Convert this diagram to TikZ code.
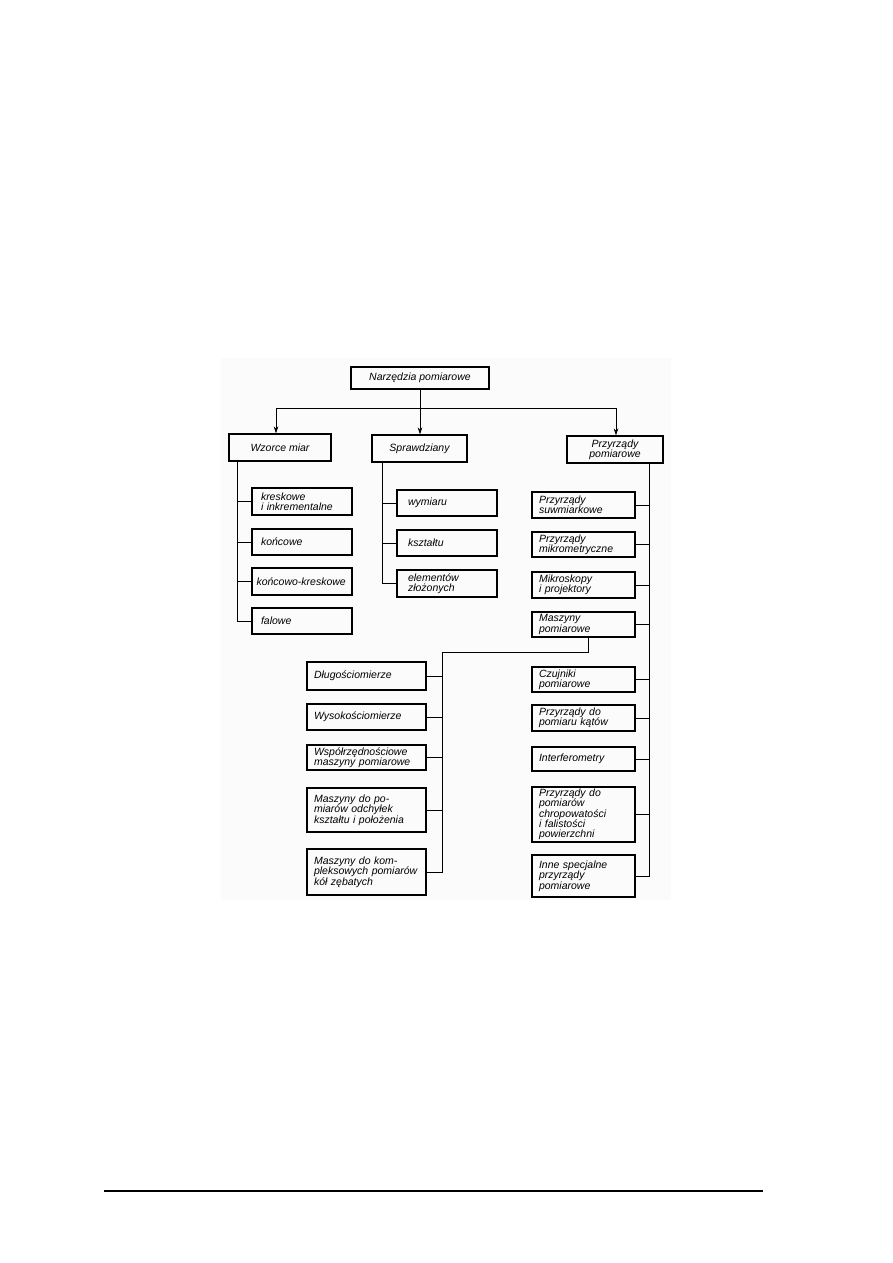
\documentclass[tikz,border=0pt]{standalone}
\usepackage{fontspec}
\setmainfont{Liberation Sans}
\usetikzlibrary{arrows.meta}
\hyphenpenalty=10000
\exhyphenpenalty=10000
\begin{document}
\begin{tikzpicture}[x=1pt,y=-1pt,
  every node/.style={font=\fontsize{10.5}{10.3}\selectfont\itshape},
  box/.style={draw, line width=1.1pt, inner ysep=0pt, align=left},
  topbox/.style={draw, line width=1.1pt, inner sep=0pt, align=center},
  wbox/.style={box, inner xsep=9pt, text width=82pt},
  sbox/.style={box, inner xsep=11pt, text width=78pt},
  pbox/.style={box, inner xsep=7pt, text width=89pt},
  mbox/.style={box, inner xsep=7pt, text width=105pt},
  ln/.style={line width=0.75pt},
  ar/.style={line width=0.75pt, -{Stealth[length=7pt,width=4.5pt]}}]
\useasboundingbox (0,0) rectangle (893,1263);
\fill[black!1.5] (221,358) rectangle (671,900);

% top level
\node[topbox, minimum width=138pt, minimum height=22pt] (top) at (420,378) {Narzędzia pomiarowe};
\node[topbox, minimum width=102pt, minimum height=27pt] (wz) at (280,447.5) {Wzorce miar};
\node[topbox, minimum width=95pt, minimum height=27pt] (sp) at (419.5,448.5) {Sprawdziany};
\node[topbox, minimum width=96pt, minimum height=27pt] (pz) at (615,449.5) {Przyrządy\\pomiarowe};

\coordinate (bus) at (420,408);
\coordinate (busL) at (276,408);
\coordinate (busR) at (616,408);
\draw[ln] (top.south) -- (bus);
\draw[ln] (busL) -- (busR);
\draw[ar] (busL) -- (busL |- wz.north);
\draw[ar] (bus) -- (bus |- sp.north);
\draw[ar] (busR) -- (busR |- pz.north);

% Wzorce miar children
\node[wbox, minimum height=27pt] (k1) at (302,501.5) {kreskowe\\i inkrementalne};
\node[wbox, minimum height=26pt] (k2) at (302,542) {końcowe};
\node[box, inner xsep=4.5pt, text width=91pt, minimum height=27pt] (k3) at (302,581.5) {końcowo-kreskowe};
\node[wbox, minimum height=26pt] (k4) at (302,621) {falowe};
\coordinate (wzA) at ([xshift=9pt]wz.south west);
\draw[ln] (wzA) |- (k4.west);
\foreach \n in {k1,k2,k3} \draw[ln] (\n.west) -- (\n.west -| wzA);

% Sprawdziany children
\node[sbox, minimum height=26pt] (s1) at (447,503) {wymiaru};
\node[sbox, minimum height=26pt] (s2) at (447,543) {kształtu};
\node[sbox, minimum height=27pt] (s3) at (447,583.5) {elementów\\złożonych};
\coordinate (spA) at ([xshift=11pt]sp.south west);
\draw[ln] (spA) |- (s3.west);
\foreach \n in {s1,s2} \draw[ln] (\n.west) -- (\n.west -| spA);

% Przyrzady children
\node[pbox, minimum height=26pt] (p1) at (583.5,505) {Przyrządy\\suwmiarkowe};
\node[pbox, minimum height=25pt] (p2) at (583.5,544.5) {Przyrządy\\mikrometryczne};
\node[pbox, minimum height=26pt] (p3) at (583.5,585) {Mikroskopy\\i projektory};
\node[pbox, minimum height=25pt] (p4) at (583.5,624.5) {Maszyny\\pomiarowe};
\node[pbox, minimum height=25pt] (p5) at (583.5,679.5) {Czujniki\\pomiarowe};
\node[pbox, minimum height=26pt] (p6) at (583.5,718) {Przyrządy do\\pomiaru kątów};
\node[pbox, minimum height=24pt] (p7) at (583.5,759) {Interferometry};
\node[pbox, minimum height=55pt] (p8) at (583.5,814.5) {Przyrządy do\\pomiarów\\chropowatości\\i falistości\\powierzchni};
\node[pbox, minimum height=42pt] (p9) at (583.5,876) {Inne specjalne\\przyrządy\\pomiarowe};
\coordinate (pzA) at ([xshift=-14pt]pz.south east);
\draw[ln] (pzA) |- (p9.east);
\foreach \n in {p1,p2,p3,p4,p5,p6,p7,p8} \draw[ln] (\n.east) -- (\n.east -| pzA);

% Maszyny pomiarowe children
\node[mbox, minimum height=28pt] (m1) at (366.5,676) {Długościomierze};
\node[mbox, minimum height=26pt] (m2) at (366.5,717) {Wysokościomierze};
\node[mbox, minimum height=25pt] (m3) at (366.5,757.5) {Współrzędnościowe\\maszyny pomiarowe};
\node[mbox, minimum height=44pt] (m4) at (366.5,810) {Maszyny do po-\\miarów odchyłek\\kształtu i położenia};
\node[mbox, minimum height=46pt] (m5) at (366.5,872) {Maszyny do kom-\\pleksowych pomiarów\\kół zębatych};
\coordinate (mA) at ([xshift=4.5pt]p4.south);
\coordinate (mB) at (442,652);
\draw[ln] (mA) |- (mB) |- (m5.east);
\foreach \n in {m1,m2,m3,m4} \draw[ln] (\n.east) -- (\n.east -| mB);

% page rule
\coordinate (rL) at (104,1191);
\coordinate (rR) at (763,1191);
\draw[line width=1.1pt] (rL) -- (rR);
\end{tikzpicture}
\end{document}
